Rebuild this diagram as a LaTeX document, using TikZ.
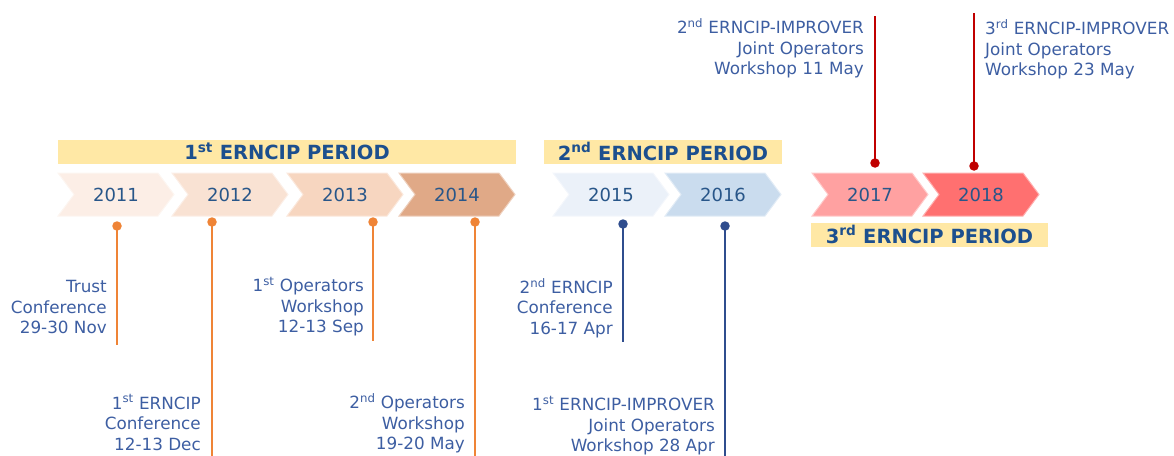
\documentclass[tikz,border=0pt]{standalone}
\usepackage{fontspec}
\setmainfont{DejaVu Sans}
\usepackage{xcolor}
\usetikzlibrary{positioning}

\definecolor{hdrfill}{HTML}{FFE8A5}
\definecolor{hdrtext}{HTML}{1C4F8E}
\definecolor{yeartext}{HTML}{285689}
\definecolor{evttext}{HTML}{3D5EA2}
\definecolor{pinorange}{HTML}{EF8436}
\definecolor{pinblue}{HTML}{2F4D8E}
\definecolor{pinred}{HTML}{C00000}
\definecolor{c11}{HTML}{FCEEE6}
\definecolor{c12}{HTML}{F9E2D3}
\definecolor{c13}{HTML}{F7D6C0}
\definecolor{c14}{HTML}{E0A987}
\definecolor{c15}{HTML}{EBF1F9}
\definecolor{c16}{HTML}{CADCEE}
\definecolor{c17}{HTML}{FFA1A1}
\definecolor{c18}{HTML}{FF7070}

\begin{document}
\begin{tikzpicture}[x=1pt,y=-1pt,
  chevron/.style={line width=1pt},
  yearlbl/.style={font=\fontsize{18}{20}\selectfont, text=yeartext, inner sep=0pt},
  period/.style={fill=hdrfill, text=hdrtext, inner sep=0pt, font=\fontsize{19.5}{22}\selectfont\bfseries},
  evt/.style={font=\fontsize{16.8}{20.5}\selectfont, text=evttext, inner sep=0pt, execute at begin node=\strut},
  pin/.style={circle, fill=#1, inner sep=0pt, minimum size=9.5pt},
  pinline/.style={draw=#1, line width=1.3pt}]

\useasboundingbox (0,0) rectangle (1174,455);

% period headers
\node[period, minimum width=458, minimum height=24] (per1) at (287,151.5) {1\textsuperscript{st} ERNCIP PERIOD};
\node[period, minimum width=238, minimum height=24] (per2) at (663,151.5) {2\textsuperscript{nd} ERNCIP PERIOD};
\node[period, minimum width=237, minimum height=24] (per3) at (929.5,234.5) {3\textsuperscript{rd} ERNCIP PERIOD};

% year arrows
\foreach \x/\yr/\col in {58/2011/c11, 172/2012/c12, 287/2013/c13, 399/2014/c14,
                         553/2015/c15, 665/2016/c16, 812/2017/c17, 923/2018/c18} {
  \filldraw[chevron, fill=\col, draw=\col!55!white]
    (\x,173) -- ++(100,0) -- ++(16,21.5) -- ++(-16,21.5) -- ++(-100,0) -- ++(16,-21.5) -- cycle;
  \node[yearlbl] (y\yr) at (\x+58,194.5) {\yr};
}

% pins below the arrows
\node[pin=pinorange] (p11) at (117,226) {};
\node[pin=pinorange] (p12) at (212,222) {};
\node[pin=pinorange] (p13) at (373,222) {};
\node[pin=pinorange] (p14) at (475,222) {};
\node[pin=pinblue]   (p15) at (623,224) {};
\node[pin=pinblue]   (p16) at (725,226) {};
\coordinate (e11) at (117,345);
\coordinate (e12) at (212,456);
\coordinate (e13) at (373,341);
\coordinate (e14) at (475,456);
\coordinate (e15) at (623,342);
\coordinate (e16) at (725,456);
\draw[pinline=pinorange] (p11.center) -- (e11);
\draw[pinline=pinorange] (p12.center) -- (e12);
\draw[pinline=pinorange] (p13.center) -- (e13);
\draw[pinline=pinorange] (p14.center) -- (e14);
\draw[pinline=pinblue] (p15.center) -- (e15);
\draw[pinline=pinblue] (p16.center) -- (e16);

% pins above the arrows
\node[pin=pinred] (p17) at (875,163) {};
\node[pin=pinred] (p18) at (974,166) {};
\coordinate (e17) at (875,16);
\coordinate (e18) at (974,13);
\draw[pinline=pinred] (p17.center) -- (e17);
\draw[pinline=pinred] (p18.center) -- (e18);

% events
\node[evt, align=right, anchor=north east] (ev11) at (107,280.5) {Trust\\Conference\\29-30 Nov};
\node[evt, align=right, anchor=north east] (ev12) at (201,394.5) {1\textsuperscript{st} ERNCIP\\Conference\\12-13 Dec};
\node[evt, align=right, anchor=north east] (ev13) at (364,277) {1\textsuperscript{st} Operators\\Workshop\\12-13 Sep};
\node[evt, align=right, anchor=north east] (ev14) at (465,393.5) {2\textsuperscript{nd} Operators\\Workshop\\19-20 May};
\node[evt, align=right, anchor=north east] (ev15) at (613,278) {2\textsuperscript{nd} ERNCIP\\Conference\\16-17 Apr};
\node[evt, align=right, anchor=north east] (ev16) at (715,396) {1\textsuperscript{st} ERNCIP-IMPROVER\\Joint Operators\\Workshop 28 Apr};
\node[evt, align=right, anchor=north east] (ev17) at (864,18.5) {2\textsuperscript{nd} ERNCIP-IMPROVER\\Joint Operators\\Workshop 11 May};
\node[evt, align=left, anchor=north west] (ev18) at (985,19.5) {3\textsuperscript{rd} ERNCIP-IMPROVER\\Joint Operators\\Workshop 23 May};

\end{tikzpicture}
\end{document}
